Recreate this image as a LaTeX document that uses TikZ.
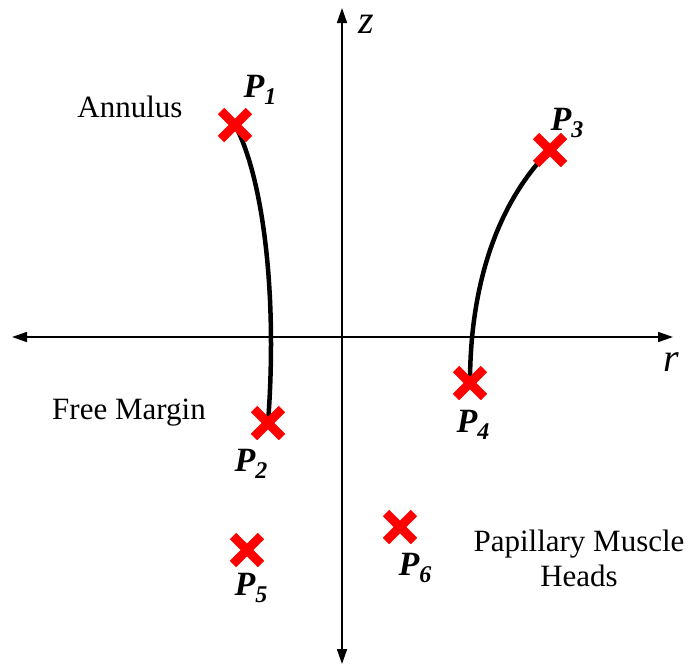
\documentclass[tikz,border=0pt]{standalone}
\usepackage{fontspec}
\setmainfont{Liberation Serif}
\usetikzlibrary{shapes.misc,arrows.meta,backgrounds}
\tikzset{
  % akser med pil i begge ender
  axis/.style={line width=1.6pt,
    {Triangle[length=15pt,width=10pt]}-{Triangle[length=15pt,width=10pt]}},
  % rodt kryds for et punkt
  mark point/.style={cross out, draw=red, line width=9pt,
    minimum size=19pt, inner sep=0pt},
  curve/.style={draw=black, line width=4.5pt},
  plbl/.style={font=\fontsize{34}{40}\selectfont\bfseries\itshape, inner sep=0pt},
  txt/.style={font=\fontsize{31}{35}\selectfont, inner sep=0pt, align=center},
  axlbl/.style={font=\fontsize{40}{42}\selectfont\itshape, inner sep=0pt},
}
\newcommand{\plab}[1]{P\raisebox{-0.22em}{\fontsize{24}{24}\selectfont #1}}

\begin{document}
\begin{tikzpicture}[x=1pt,y=-1pt]
\useasboundingbox (0,0) rectangle (688,667);

% ----- akser -----
\coordinate (zt) at (342,8);
\coordinate (zb) at (342,664);
\coordinate (rl) at (12,337);
\coordinate (rr) at (673,337);
\draw[axis] (zb) -- (zt);
\draw[axis] (rl) -- (rr);
\node[axlbl] (zlab) at (366,24) {z};
\node[axlbl] (rlab) at (671,362) {r};

% ----- punkter -----
\node[mark point] (p1) at (235,125) {};
\node[mark point] (p2) at (268,423) {};
\node[mark point] (p3) at (550,150) {};
\node[mark point] (p4) at (470,383) {};
\node[mark point] (p5) at (247,550) {};
\node[mark point] (p6) at (400,527) {};

\node[plbl] (l1) at (260,90) {\plab{1}};
\node[plbl] (l2) at (251,464) {\plab{2}};
\node[plbl] (l3) at (567,123) {\plab{3}};
\node[plbl] (l4) at (473,425) {\plab{4}};
\node[plbl] (l5) at (251,588) {\plab{5}};
\node[plbl] (l6) at (415,568) {\plab{6}};

% ----- tekster -----
\node[txt] (annulus) at (130,107) {Annulus};
\node[txt] (margin) at (129,413) {Free Margin};
\node[txt] (papillary) at (579,558) {Papillary Muscle\\Heads};

% ----- kurver (under krydsene) -----
\begin{scope}[on background layer]
\draw[curve] (p1.center) .. controls (262,175) and (278,290) .. (p2.center);
\draw[curve] (p3.center) .. controls (500,200) and (470,280) .. (p4.center);
\end{scope}

\end{tikzpicture}
\end{document}
